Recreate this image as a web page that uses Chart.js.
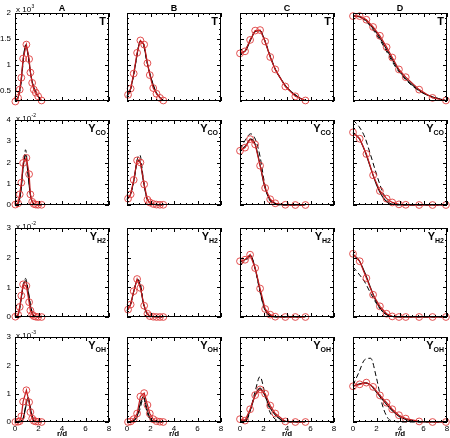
<!DOCTYPE html>
<html>
<head>
<meta charset="UTF-8">
<title>Radial profiles</title>
<script src="https://cdn.jsdelivr.net/npm/chart.js"></script>
<style>
  body { margin: 0; background: #fff; width: 450px; height: 438px; position: relative; overflow: hidden; }
  canvas { position: absolute; }
</style>
</head>
<body>
<script>
// radial stations of the measured profiles (red circles)
const rA = [0.03, 0.26, 0.4, 0.54, 0.69, 0.97, 1.2, 1.31, 1.46, 1.6, 1.77, 1.97, 2.26];
const rB = [0.09, 0.31, 0.57, 0.86, 1.14, 1.46, 1.74, 1.94, 2.23, 2.51, 2.8, 3.09];
const rC = [0, 0.43, 0.86, 1.29, 1.71, 2.14, 2.57, 3.0, 3.86, 4.71, 5.57];
const rD = [0, 0.57, 1.14, 1.71, 2.29, 2.86, 3.34, 3.91, 4.49, 5.63, 6.77, 7.91];
// radial grid of the computed profiles (black lines)
const gA = [0, 0.3, 0.5, 0.7, 0.9, 1.1, 1.3, 1.5, 1.8, 2.2];
const gB = [0, 0.3, 0.6, 0.9, 1.1, 1.4, 1.7, 2.0, 2.5, 3.0];
const gC = [0, 0.5, 0.9, 1.3, 1.7, 2.1, 2.5, 3.0, 3.5, 4.0, 5.0, 5.5];
const gD = [0, 0.5, 1.0, 1.5, 2.0, 2.5, 3.0, 3.5, 4.0, 5.0, 6.0, 8.0];

// T (x 10^3)
const expT_A = [0.29, 0.36, 0.52, 0.75, 1.12, 1.39, 1.11, 0.85, 0.65, 0.52, 0.46, 0.39, 0.31];
const expT_B = [0.42, 0.54, 0.83, 1.23, 1.47, 1.39, 1.03, 0.8, 0.55, 0.44, 0.36, 0.31];
const expT_C = [1.22, 1.26, 1.48, 1.66, 1.67, 1.45, 1.15, 0.91, 0.58, 0.39, 0.31];
const expT_D = [1.94, 1.94, 1.87, 1.73, 1.56, 1.34, 1.14, 0.91, 0.76, 0.52, 0.36, 0.31];
const solT_A = [0.3, 0.4, 0.65, 1.1, 1.38, 1.22, 0.88, 0.64, 0.45, 0.32];
const solT_B = [0.4, 0.53, 0.85, 1.25, 1.45, 1.4, 1.06, 0.78, 0.46, 0.32];
const solT_C = [1.22, 1.28, 1.48, 1.64, 1.66, 1.47, 1.2, 0.91, 0.72, 0.56, 0.37, 0.31];
const solT_D = [1.94, 1.93, 1.88, 1.76, 1.62, 1.44, 1.24, 1.04, 0.86, 0.62, 0.45, 0.3];
const dashT_A = [0.3, 0.38, 0.62, 1.05, 1.38, 1.2, 0.87, 0.63, 0.45, 0.32];
const dashT_B = [0.38, 0.52, 0.85, 1.25, 1.45, 1.38, 1.05, 0.78, 0.45, 0.33];
const dashT_C = [1.2, 1.3, 1.5, 1.65, 1.66, 1.48, 1.22, 0.92, 0.72, 0.56, 0.37, 0.31];
const dashT_D = [1.95, 1.93, 1.86, 1.74, 1.58, 1.4, 1.2, 1.0, 0.84, 0.6, 0.45, 0.3];

// Y_CO (x 10^-2)
const expCO_A = [0.02, 0.08, 0.5, 1.05, 1.98, 2.22, 1.45, 0.5, 0.15, 0.05, 0.02, 0.01, 0.01];
const expCO_B = [0.3, 0.5, 1.18, 2.1, 2.0, 0.97, 0.25, 0.12, 0.05, 0.02, 0.01, 0.01];
const expCO_C = [2.55, 2.7, 3.1, 2.85, 1.85, 0.8, 0.27, 0.08, 0.01, 0, 0];
const expCO_D = [3.42, 3.12, 2.4, 1.4, 0.66, 0.3, 0.12, 0.03, 0.01, 0, 0, 0];
const solCO_A = [0, 0.1, 0.65, 1.8, 2.35, 1.5, 0.5, 0.12, 0.02, 0];
const solCO_B = [0.28, 0.5, 1.2, 2.1, 2.05, 1.1, 0.3, 0.08, 0.01, 0];
const solCO_C = [2.55, 2.8, 3.1, 2.85, 1.9, 0.85, 0.3, 0.06, 0.01, 0, 0, 0];
const solCO_D = [3.4, 3.15, 2.55, 1.75, 0.95, 0.4, 0.1, 0.02, 0, 0, 0, 0];
const dashCO_A = [0, 0.1, 0.7, 1.8, 2.6, 1.6, 0.5, 0.1, 0.02, 0];
const dashCO_B = [0.25, 0.5, 1.2, 2.2, 2.35, 1.2, 0.3, 0.08, 0.01, 0];
const dashCO_C = [2.6, 3.1, 3.35, 3.1, 2.3, 1.0, 0.25, 0.04, 0, 0, 0, 0];
const dashCO_D = [4.0, 3.7, 3.2, 2.35, 1.45, 0.65, 0.15, 0.02, 0, 0, 0, 0];

// Y_H2 (x 10^-2)
const expH2_A = [0.01, 0.08, 0.34, 0.72, 1.1, 1.05, 0.5, 0.22, 0.08, 0.03, 0.01, 0, 0];
const expH2_B = [0.25, 0.42, 0.87, 1.28, 0.98, 0.38, 0.11, 0.03, 0.01, 0, 0, 0];
const expH2_C = [1.88, 1.93, 2.1, 1.65, 0.96, 0.27, 0.08, 0.01, 0, 0, 0];
const expH2_D = [2.13, 1.88, 1.31, 0.75, 0.36, 0.11, 0.02, 0, 0, 0, 0, 0];
const solH2_A = [0, 0.1, 0.55, 1.05, 1.22, 0.9, 0.4, 0.1, 0.02, 0];
const solH2_B = [0.22, 0.42, 0.9, 1.25, 1.1, 0.45, 0.12, 0.03, 0, 0];
const solH2_C = [1.85, 1.95, 2.08, 1.62, 0.9, 0.28, 0.06, 0.01, 0, 0, 0, 0];
const solH2_D = [2.1, 1.92, 1.5, 0.98, 0.5, 0.2, 0.05, 0.01, 0, 0, 0, 0];
const dashH2_A = [0, 0.1, 0.55, 1.05, 1.3, 0.95, 0.45, 0.12, 0.02, 0];
const dashH2_B = [0.2, 0.42, 0.9, 1.25, 1.2, 0.45, 0.1, 0.02, 0, 0];
const dashH2_C = [1.78, 1.9, 2.05, 1.6, 0.85, 0.25, 0.05, 0, 0, 0, 0, 0];
const dashH2_D = [1.69, 1.45, 1.18, 0.8, 0.45, 0.19, 0.05, 0.01, 0, 0, 0, 0];

// Y_OH (x 10^-3)
const expOH_A = [0, 0.01, 0.03, 0.2, 0.72, 1.12, 0.7, 0.35, 0.12, 0.04, 0.02, 0.01, 0];
const expOH_B = [0, 0.02, 0.1, 0.3, 0.9, 1.02, 0.6, 0.3, 0.1, 0.03, 0.01, 0];
const expOH_C = [0.1, 0.05, 0.45, 0.95, 1.15, 1.0, 0.58, 0.3, 0.02, 0, 0];
const expOH_D = [1.26, 1.33, 1.39, 1.24, 0.94, 0.68, 0.45, 0.24, 0.12, 0.02, 0, 0];
const solOH_A = [0, 0, 0.02, 0.12, 0.5, 0.85, 0.5, 0.15, 0.02, 0];
const solOH_B = [0, 0, 0.05, 0.25, 0.6, 0.9, 0.45, 0.1, 0.01, 0];
const solOH_C = [0.05, 0.08, 0.45, 0.95, 1.2, 0.95, 0.55, 0.25, 0.08, 0.02, 0, 0];
const solOH_D = [1.27, 1.34, 1.38, 1.3, 1.05, 0.8, 0.55, 0.34, 0.18, 0.04, 0, 0];
const dashOH_A = [0, 0, 0.02, 0.15, 0.55, 0.88, 0.55, 0.15, 0.02, 0];
const dashOH_B = [0, 0, 0.05, 0.2, 0.45, 0.85, 0.35, 0.05, 0, 0];
const dashOH_C = [0, 0.02, 0.45, 1.1, 1.6, 1.05, 0.4, 0.1, 0.02, 0, 0, 0];
const dashOH_D = [1.3, 1.75, 2.2, 2.25, 1.55, 0.6, 0.12, 0.03, 0, 0, 0, 0];

const colNames = ['A', 'B', 'C', 'D'];
const rStations = [rA, rB, rC, rD];
const rGrid = [gA, gB, gC, gD];

const rows = [
  { main: 'T', sub: '',   min: 0.3, max: 2, major: [0.5, 1, 1.5, 2], majorStep: 0.5, minorStep: 0.1, pow: '3',
    exp: [expT_A, expT_B, expT_C, expT_D], sol: [solT_A, solT_B, solT_C, solT_D], dash: [dashT_A, dashT_B, dashT_C, dashT_D] },
  { main: 'Y', sub: 'CO', min: 0, max: 4, major: [0, 1, 2, 3, 4], majorStep: 1, minorStep: 0.2, pow: '-2',
    exp: [expCO_A, expCO_B, expCO_C, expCO_D], sol: [solCO_A, solCO_B, solCO_C, solCO_D], dash: [dashCO_A, dashCO_B, dashCO_C, dashCO_D] },
  { main: 'Y', sub: 'H2', min: 0, max: 3, major: [0, 1, 2, 3], majorStep: 1, minorStep: 0.2, pow: '-2',
    exp: [expH2_A, expH2_B, expH2_C, expH2_D], sol: [solH2_A, solH2_B, solH2_C, solH2_D], dash: [dashH2_A, dashH2_B, dashH2_C, dashH2_D] },
  { main: 'Y', sub: 'OH', min: 0, max: 3, major: [0, 1, 2, 3], majorStep: 1, minorStep: 0.2, pow: '-3',
    exp: [expOH_A, expOH_B, expOH_C, expOH_D], sol: [solOH_A, solOH_B, solOH_C, solOH_D], dash: [dashOH_A, dashOH_B, dashOH_C, dashOH_D] }
];

// panel placement in page pixels
const colLeft = [15, 127, 240, 353];
const rowTop = [13, 120, 228, 337];
const rowH = [88, 85, 89, 85];
const panelW = 94;
const PL = 17, PT = 14, PR = 7, PB = 20;
const FONT = 'Arial, "Liberation Sans", sans-serif';

function pts(xs, ys) {
  return xs.map((x, i) => ({ x: x, y: ys[i] }));
}

function panelPlugin(r, c) {
  const row = rows[r];
  return {
    id: 'panel' + r + c,
    afterDatasetsDraw(chart) {
      const ctx = chart.ctx, a = chart.chartArea;
      const xs = chart.scales.x, ys = chart.scales.y;
      ctx.save();
      ctx.strokeStyle = '#000';
      ctx.lineWidth = 1;
      ctx.strokeRect(a.left + 0.5, a.top + 0.5, a.right - a.left - 1, a.bottom - a.top - 1);
      ctx.beginPath();
      // inward ticks on all four sides
      for (let v = 0; v <= 8.0001; v += 0.5) {
        const px = Math.round(xs.getPixelForValue(v)) + 0.5;
        const len = Math.abs(v / 2 - Math.round(v / 2)) < 1e-6 ? 4 : 2;
        ctx.moveTo(px, a.bottom); ctx.lineTo(px, a.bottom - len);
        ctx.moveTo(px, a.top); ctx.lineTo(px, a.top + len);
      }
      for (let v = row.min; v <= row.max + 1e-6; v += row.minorStep) {
        const py = Math.round(ys.getPixelForValue(v)) + 0.5;
        const q = v / row.majorStep;
        const len = Math.abs(q - Math.round(q)) < 1e-6 ? 4 : 2;
        ctx.moveTo(a.left, py); ctx.lineTo(a.left + len, py);
        ctx.moveTo(a.right, py); ctx.lineTo(a.right - len, py);
      }
      ctx.stroke();

      // variable label, top right
      ctx.fillStyle = '#000';
      ctx.textBaseline = 'alphabetic';
      ctx.font = 'bold 11px ' + FONT;
      const wMain = ctx.measureText(row.main).width;
      ctx.font = 'bold 7px ' + FONT;
      const wSub = row.sub ? ctx.measureText(row.sub).width : 0;
      const xStart = a.right - 3 - wMain - wSub;
      ctx.font = 'bold 11px ' + FONT;
      ctx.textAlign = 'left';
      ctx.fillText(row.main, xStart, a.top + 12);
      if (row.sub) {
        ctx.font = 'bold 7px ' + FONT;
        ctx.fillText(row.sub, xStart + wMain, a.top + 15);
      }

      if (r === 0) {
        ctx.font = 'bold 9px ' + FONT;
        ctx.textAlign = 'center';
        ctx.fillText(colNames[c], (a.left + a.right) / 2, a.top - 2);
      }
      if (c === 0) {
        ctx.font = '8px ' + FONT;
        ctx.textAlign = 'left';
        const base = r === 0 ? a.top - 1 : a.top + 1;
        ctx.fillText('x 10', a.left + 1, base);
        const w = ctx.measureText('x 10').width;
        ctx.font = '5px ' + FONT;
        ctx.fillText(row.pow, a.left + 1 + w + 0.5, base - 4);
      }
      ctx.restore();
    }
  };
}

function makePanel(r, c) {
  const row = rows[r];
  const w = panelW + PL + PR, h = rowH[r] + PT + PB;
  const canvas = document.createElement('canvas');
  canvas.width = w;
  canvas.height = h;
  canvas.style.left = (colLeft[c] - PL) + 'px';
  canvas.style.top = (rowTop[r] - PT) + 'px';
  document.body.appendChild(canvas);

  const bottomRow = r === rows.length - 1;

  new Chart(canvas.getContext('2d'), {
    type: 'scatter',
    data: {
      datasets: [
        {
          // measured: drawn on top
          data: pts(rStations[c], row.exp[c]),
          showLine: true, borderColor: '#c0181c', borderWidth: 1.2, tension: 0,
          pointRadius: 3.4, pointBorderWidth: 0.9, pointBorderColor: '#e03c3c',
          pointBackgroundColor: 'rgba(0,0,0,0)', clip: false, order: 0
        },
        {
          data: pts(rGrid[c], row.sol[c]),
          showLine: true, borderColor: '#000', borderWidth: 1.1,
          pointRadius: 0, cubicInterpolationMode: 'monotone', clip: false, order: 1
        },
        {
          data: pts(rGrid[c], row.dash[c]),
          showLine: true, borderColor: '#000', borderWidth: 1, borderDash: [5, 3],
          pointRadius: 0, cubicInterpolationMode: 'monotone', clip: false, order: 2
        }
      ]
    },
    options: {
      responsive: false,
      animation: false,
      devicePixelRatio: 1,
      layout: { padding: { top: PT, right: PR, left: 0, bottom: 0 } },
      plugins: { legend: { display: false }, tooltip: { enabled: false } },
      scales: {
        x: {
          type: 'linear', min: 0, max: 8,
          grid: { display: false, drawTicks: false },
          border: { display: false },
          ticks: { display: bottomRow, stepSize: 2, padding: 2, color: '#000', font: { size: 8, family: FONT } },
          title: { display: bottomRow, text: 'r/d', color: '#000', padding: { top: 0, bottom: 3 }, font: { size: 8, weight: 'bold', family: FONT } },
          afterFit: s => { s.height = PB; }
        },
        y: {
          type: 'linear', min: row.min, max: row.max,
          grid: { display: false, drawTicks: false },
          border: { display: false },
          ticks: { display: c === 0, padding: 4, color: '#000', font: { size: 8, family: FONT }, callback: v => String(v) },
          afterBuildTicks: s => { s.ticks = row.major.map(v => ({ value: v })); },
          afterFit: s => { s.width = PL; }
        }
      }
    },
    plugins: [panelPlugin(r, c)]
  });
}

for (let r = 0; r < rows.length; r++) {
  for (let c = 0; c < colNames.length; c++) {
    makePanel(r, c);
  }
}
</script>
</body>
</html>
